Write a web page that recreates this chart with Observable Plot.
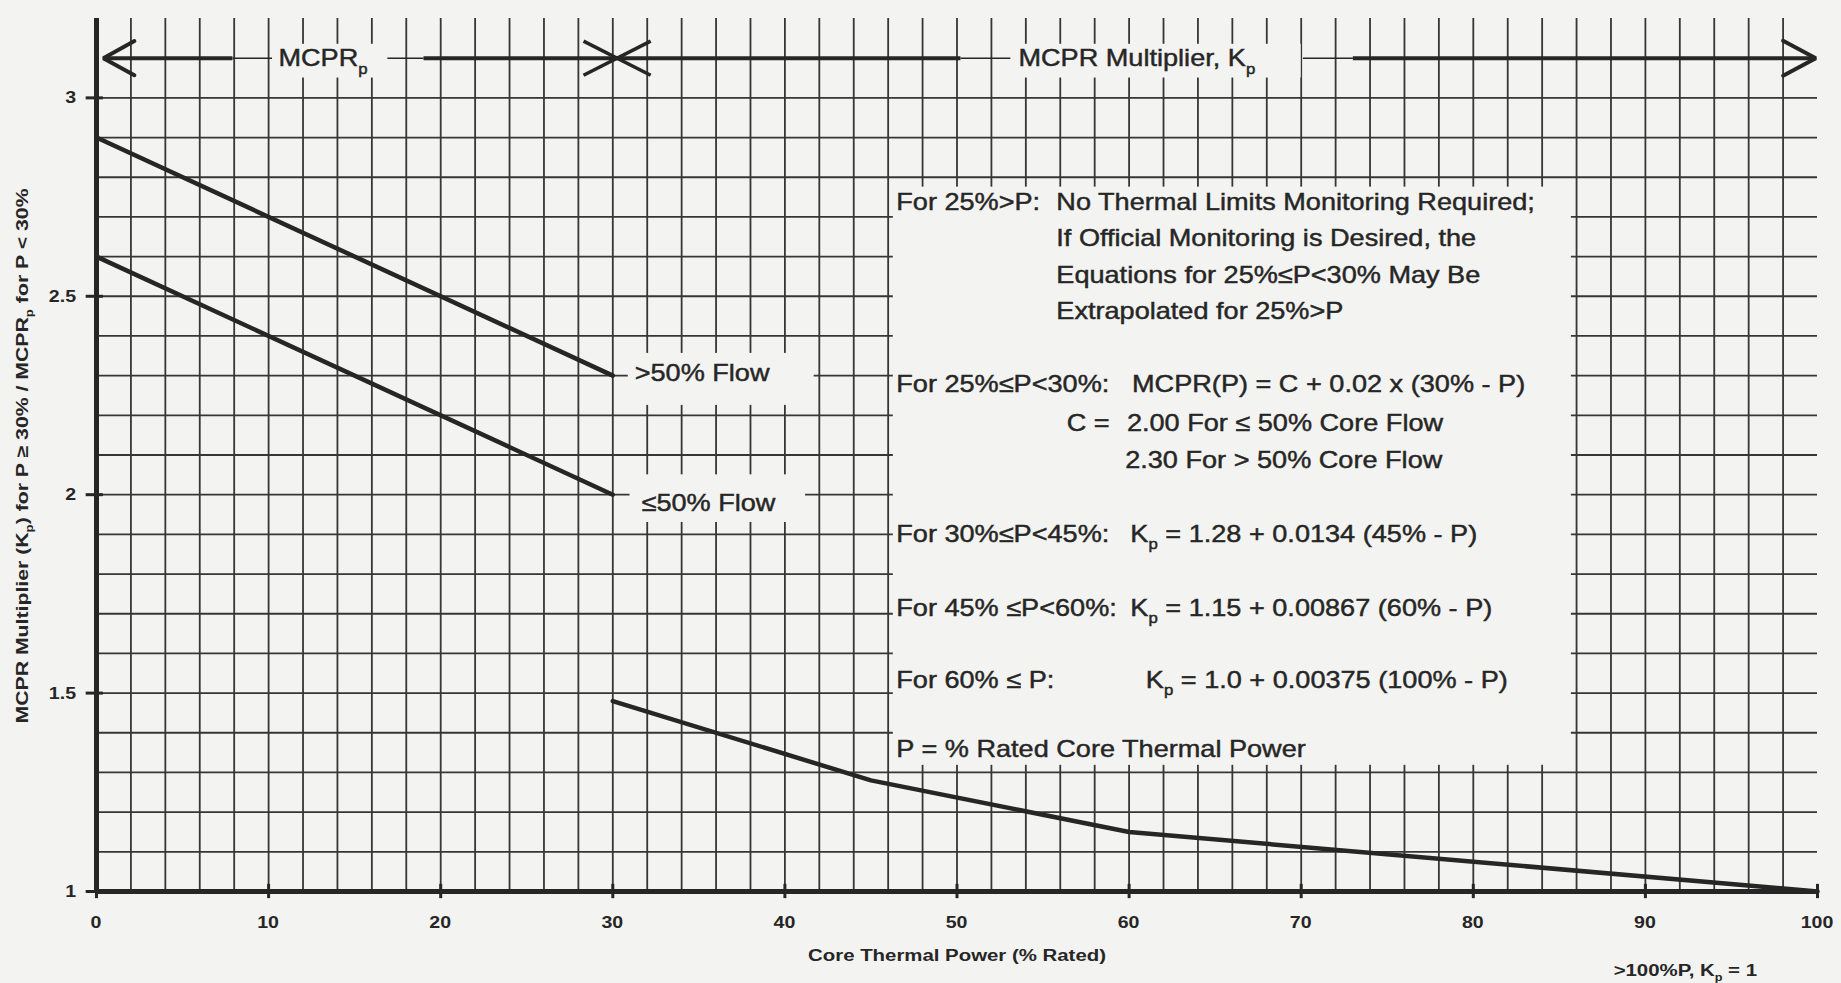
<!DOCTYPE html>
<html>
<head>
<meta charset="utf-8">
<script src="https://cdn.jsdelivr.net/npm/d3@7"></script>
<script src="https://cdn.jsdelivr.net/npm/@observablehq/plot@0.6"></script>
<style>
  html, body { margin: 0; padding: 0; background: #f3f3f1; }
  svg { display: block; }
</style>
</head>
<body>
<div id="chart"></div>
<script>
// ---------------- data ----------------
const powerMcpr = [0, 30];                 // % rated core thermal power (MCPR_P region)
const mcprHighFlow = [2.9, 2.3];           // >50% flow
const mcprLowFlow = [2.6, 2.0];            // <=50% flow
const powerKp = [30, 45, 60, 100];         // K_P region
const kpValues = [1.48, 1.28, 1.15, 1.0];  // K_P multiplier
const xTicks = [0, 10, 20, 30, 40, 50, 60, 70, 80, 90, 100];
const yTicks = [1, 1.5, 2, 2.5, 3];
const xGrid = d3.range(2, 99, 2);
const yGrid = d3.range(11, 31).map(d => d / 10);

// annotation layout (data coordinates)
const arrowY = 3.1;
const arrowThick = [[0.4, 7.9], [19, 50.2], [73, 99.9]];
const arrowThin = [[7.9, 10.2], [16.9, 19], [50.2, 53.1], [70.1, 73]];
const headLeft = [[2.2, 3.143], [0.4, 3.1], [2.2, 3.057]];
const headRight = [[98, 3.144], [99.9, 3.1], [98, 3.056]];
const crossMark = [[28.3, 3.143, 32.2, 3.057], [28.3, 3.057, 32.2, 3.143]];
const labelBoxes = [
  {x1: 10.4, x2: 16.6, y1: 3.05, y2: 3.135},
  {x1: 53.3, x2: 70.0, y1: 3.05, y2: 3.135},
  {x1: 30.9, x2: 41.7, y1: 2.225, y2: 2.356},
  {x1: 31.0, x2: 41.2, y1: 1.93, y2: 2.05},
  {x1: 46.3, x2: 85.7, y1: 1.318, y2: 2.775}
];
const plotLabels = [
  {x: 10.6, y: 3.1, t: "MCPR_{p}"},
  {x: 53.6, y: 3.1, t: "MCPR Multiplier, K_{p}"},
  {x: 31.3, y: 2.306, t: ">50% Flow"},
  {x: 31.7, y: 1.98, t: "≤50% Flow"}
];
const noteLines = [
  {x: 46.5, y: 2.737, t: "For 25%>P:"},
  {x: 55.8, y: 2.737, t: "No Thermal Limits Monitoring Required;"},
  {x: 55.8, y: 2.646, t: "If Official Monitoring is Desired, the"},
  {x: 55.8, y: 2.553, t: "Equations for 25%≤P<30% May Be"},
  {x: 55.8, y: 2.464, t: "Extrapolated for 25%>P"},
  {x: 46.5, y: 2.280, t: "For 25%≤P<30%:"},
  {x: 60.2, y: 2.280, t: "MCPR(P) = C + 0.02 x (30% - P)"},
  {x: 56.4, y: 2.180, t: "C ="},
  {x: 59.9, y: 2.180, t: "2.00 For ≤ 50% Core Flow"},
  {x: 59.8, y: 2.089, t: "2.30 For > 50% Core Flow"},
  {x: 46.5, y: 1.902, t: "For 30%≤P<45%:"},
  {x: 60.1, y: 1.902, t: "K_{p} = 1.28 + 0.0134 (45% - P)"},
  {x: 46.5, y: 1.716, t: "For 45% ≤P<60%:"},
  {x: 60.1, y: 1.716, t: "K_{p} = 1.15 + 0.00867 (60% - P)"},
  {x: 46.5, y: 1.534, t: "For 60% ≤ P:"},
  {x: 61.0, y: 1.534, t: "K_{p} = 1.0 + 0.00375 (100% - P)"},
  {x: 46.5, y: 1.360, t: "P = % Rated Core Thermal Power"}
];
const xTitle = "Core Thermal Power (% Rated)";
const yTitle = "MCPR Multiplier (K_{p}) for P ≥ 30% / MCPR_{p} for P < 30%";
const footNote = ">100%P, K_{p} = 1";

// ---------------- styles ----------------
const BG = "#f3f3f1";
const INK = "#262626";
const GRID = "#363636";
const FONT = "'Liberation Sans', Arial, Helvetica, sans-serif";

// table for the curves
const curves = [
  ...powerMcpr.map((p, i) => ({p, v: mcprHighFlow[i], s: "high"})),
  ...powerMcpr.map((p, i) => ({p, v: mcprLowFlow[i], s: "low"})),
  ...powerKp.map((p, i) => ({p, v: kpValues[i], s: "kp"}))
];

// text render mark with subscript support; positions through Plot's scales
function textMark(items, opts) {
  return (index, scales) => {
    const g = d3.create("svg:g")
      .attr("fill", INK)
      .attr("font-family", FONT);
    if (opts.halo) g.attr("stroke", INK).attr("stroke-width", opts.halo);
    for (const it of items) {
      const px = it.x != null ? scales.x(it.x) : it.px;
      const py = it.y != null ? scales.y(it.y) : it.py;
      const size = it.size ?? opts.size;
      const sx = it.sx ?? opts.sx ?? 1;
      const rot = it.rotate ?? opts.rotate ?? 0;
      const t = g.append("text")
        .attr("transform", `translate(${px},${py}) rotate(${rot}) scale(${sx},1)`)
        .attr("y", 0.36 * size)
        .attr("text-anchor", it.anchor ?? opts.anchor ?? "start")
        .attr("font-size", size)
        .attr("font-weight", it.weight ?? opts.weight ?? "normal")
        .style("white-space", "pre");
      const parts = it.t.split(/(_\{[^}]*\})/);
      let shifted = false;
      for (const part of parts) {
        if (!part) continue;
        const m = part.match(/^_\{([^}]*)\}$/);
        if (m) {
          t.append("tspan").attr("font-size", size * 0.62).attr("dy", size * 0.3).text(m[1]);
          shifted = true;
        } else {
          const ts = t.append("tspan").text(part);
          if (shifted) { ts.attr("dy", -size * 0.3); shifted = false; }
        }
      }
    }
    return g.node();
  };
}

const chart = Plot.plot({
  width: 1841,
  height: 983,
  marginLeft: 96,
  marginRight: 24,
  marginTop: 18,
  marginBottom: 92,
  x: {domain: [0, 100], axis: null},
  y: {domain: [1, 3.2], axis: null},
  style: {background: BG, fontFamily: FONT},
  marks: [
    // grid
    Plot.ruleX(xGrid, {y1: 1, y2: 3.2, stroke: GRID, strokeWidth: 1.8}),
    Plot.ruleY(yGrid, {x1: 0, x2: 100, stroke: GRID, strokeWidth: 1.8}),
    // blank areas behind labels and notes
    Plot.rect(labelBoxes, {x1: "x1", x2: "x2", y1: "y1", y2: "y2", fill: BG}),
    // curves
    Plot.line(curves, {x: "p", y: "v", z: "s", stroke: INK, strokeWidth: 4.5, strokeLinejoin: "round"}),
    // axes lines
    Plot.ruleY([1], {x1: 0, x2: 100, stroke: INK, strokeWidth: 5}),
    Plot.ruleX([0], {y1: 1, y2: 3.2, stroke: INK, strokeWidth: 5}),
    Plot.ruleX(xTicks, {y1: 0.982, y2: 1.018, stroke: INK, strokeWidth: 3}),
    Plot.ruleY(yTicks, {x1: -0.6, x2: 0.4, stroke: INK, strokeWidth: 3}),
    // top arrow
    Plot.link(arrowThick, {x1: d => d[0], x2: d => d[1], y1: arrowY, y2: arrowY, stroke: INK, strokeWidth: 4}),
    Plot.link(arrowThin, {x1: d => d[0], x2: d => d[1], y1: arrowY, y2: arrowY, stroke: INK, strokeWidth: 1.6}),
    Plot.line(headLeft, {x: d => d[0], y: d => d[1], stroke: INK, strokeWidth: 4, strokeLinejoin: "miter"}),
    Plot.line(headRight, {x: d => d[0], y: d => d[1], stroke: INK, strokeWidth: 4, strokeLinejoin: "miter"}),
    Plot.link(crossMark, {x1: d => d[0], y1: d => d[1], x2: d => d[2], y2: d => d[3], stroke: INK, strokeWidth: 3.5}),
    // tick labels
    textMark(xTicks.map(v => ({x: v, py: 922, t: String(v)})), {size: 17, weight: "bold", sx: 1.15, anchor: "middle"}),
    textMark(yTicks.map(v => ({y: v, px: 76, t: String(v)})), {size: 17, weight: "bold", sx: 1.15, anchor: "end"}),
    // labels and notes
    textMark(plotLabels, {size: 24, sx: 1.13, halo: 0.45}),
    textMark(noteLines, {size: 24, sx: 1.13, halo: 0.45}),
    // titles
    textMark([{px: 957, py: 955, t: xTitle}], {size: 17, weight: "bold", sx: 1.2, anchor: "middle"}),
    textMark([{px: 22, py: 456, t: yTitle}], {size: 17, weight: "bold", sx: 1.25, anchor: "middle", rotate: -90}),
    textMark([{px: 1757, py: 970, t: footNote}], {size: 17, weight: "bold", sx: 1.2, anchor: "end"})
  ]
});
document.getElementById("chart").appendChild(chart);
</script>
</body>
</html>
